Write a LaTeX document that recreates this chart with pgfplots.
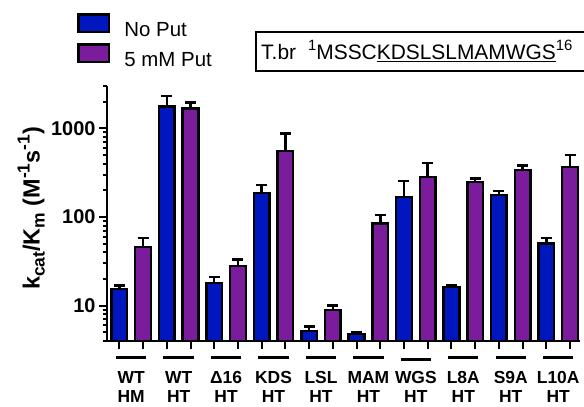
\documentclass[border=0pt]{standalone}
\usepackage{fontspec}
\setmainfont{Liberation Sans}
\usepackage{pgfplots}
\pgfplotsset{compat=1.18}
\definecolor{barblue}{RGB}{0,22,190}
\definecolor{barpurple}{RGB}{122,28,156}
\newcommand\lsub[1]{\raisebox{-0.22em}{\fontsize{17.5}{17.5}\selectfont #1}}
\newcommand\lsup[1]{\raisebox{0.42em}{\fontsize{17.5}{17.5}\selectfont #1}}

\begin{document}
\begin{tikzpicture}
\useasboundingbox (0,0) rectangle (584bp,407bp);
\begin{axis}[
  at={(107bp,66bp)}, anchor=south west,
  width=473bp, height=255bp, scale only axis,
  ymode=log, log origin=infty,
  xmin=0.48, xmax=20.42, ymin=4, ymax=3000,
  clip mode=individual,
  axis x line*=bottom, axis y line*=left,
  axis line style={line width=2.5bp, -},
  tick align=outside,
  xtick={1,...,20}, xticklabels={},
  ytick={10,100,1000}, yticklabels={10,100,1000},
  minor ytick={4,5,6,7,8,9,20,30,40,50,60,70,80,90,200,300,400,500,600,700,800,900,2000,3000},
  major tick length=8bp, minor tick length=4.5bp,
  every tick/.style={black, line width=2bp},
  yticklabel style={font=\fontsize{20}{20}\selectfont\bfseries},
  extra x ticks={1.5,3.5,5.5,7.5,9.5,11.5,13.5,15.5,17.5,19.5},
  extra x tick labels={{WT\\HM},{WT\\HT},{Δ16\\HT},{KDS\\HT},{LSL\\HT},{MAM\\HT},{WGS\\HT},{L8A\\HT},{S9A\\HT},{L10A\\HT}},
  extra x tick style={major tick length=0pt, tick style={draw=none},
     xticklabel style={align=center, font=\fontsize{17.5}{19}\selectfont\bfseries, yshift=-27bp}},
  ylabel={k\lsub{cat}/K\lsub{m} (M\lsup{-1}s\lsup{-1})},
  ylabel style={font=\fontsize{23.5}{25}\selectfont\bfseries, at={(axis description cs:-0.16,0.52)}, anchor=center},
  legend style={draw=none, fill=none, inner sep=0pt, at={(axis description cs:-0.0634,1.286)}, anchor=north west,
     font=\fontsize{20.5}{22}\selectfont, row sep=3bp, cells={anchor=west}},
  legend image code/.code={\draw[#1, line width=2.5bp, draw=black] (1.25bp,-1.45bp) rectangle (31.75bp,16.05bp); \path (44bp,0bp);},
]
\addplot[ybar, bar width=0.66, bar shift=0pt, fill=barblue, draw=black, line width=2.5bp,
  error bars/.cd, y dir=plus, y explicit,
  error bar style={line width=2.5bp, black},
  error mark options={rotate=90, mark size=5.5bp, line width=2.5bp, black}]
  table[x=x, y=y, y error=e] {
x y e
1 15.5 1.5
3 1770 530
5 18 3
7 186 43
9 5.2 0.6
11 4.8 0.2
13 168 86
15 16.3 0.7
17 177 19
19 50 8
};
\addlegendentry{No Put}
\addplot[ybar, bar width=0.66, bar shift=0pt, fill=barpurple, draw=black, line width=2.5bp,
  error bars/.cd, y dir=plus, y explicit,
  error bar style={line width=2.5bp, black},
  error mark options={rotate=90, mark size=5.5bp, line width=2.5bp, black}]
  table[x=x, y=y, y error=e] {
x y e
2 46 12
4 1680 280
6 28 5
8 553 322
10 9.0 1.0
12 84 21
14 282 122
16 247 23
18 339 44
20 364 136
};
\addlegendentry{5 mM Put}
\draw[line width=3bp] ([yshift=-16.5bp]axis cs:0.86,4) -- ([yshift=-16.5bp]axis cs:2.14,4);
\draw[line width=3bp] ([yshift=-16.5bp]axis cs:2.86,4) -- ([yshift=-16.5bp]axis cs:4.14,4);
\draw[line width=3bp] ([yshift=-16.5bp]axis cs:4.86,4) -- ([yshift=-16.5bp]axis cs:6.14,4);
\draw[line width=3bp] ([yshift=-16.5bp]axis cs:6.86,4) -- ([yshift=-16.5bp]axis cs:8.14,4);
\draw[line width=3bp] ([yshift=-16.5bp]axis cs:8.86,4) -- ([yshift=-16.5bp]axis cs:10.14,4);
\draw[line width=3bp] ([yshift=-16.5bp]axis cs:10.86,4) -- ([yshift=-16.5bp]axis cs:12.14,4);
\draw[line width=3bp] ([yshift=-19bp]axis cs:12.86,4) -- ([yshift=-19bp]axis cs:14.14,4);
\draw[line width=3bp] ([yshift=-16.5bp]axis cs:14.86,4) -- ([yshift=-16.5bp]axis cs:16.14,4);
\draw[line width=3bp] ([yshift=-16.5bp]axis cs:16.86,4) -- ([yshift=-16.5bp]axis cs:18.14,4);
\draw[line width=3bp] ([yshift=-16.5bp]axis cs:18.86,4) -- ([yshift=-16.5bp]axis cs:20.14,4);
\end{axis}
\draw[line width=1.5bp] (255.75bp,336bp) rectangle (600bp,375bp);
\node[anchor=base west, inner sep=0pt, font=\fontsize{21}{22}\selectfont] at (261bp,347bp)
  {T.br\hspace{12bp}\raisebox{0.45em}{\fontsize{15}{15}\selectfont 1}MSSC\underline{KDSLSLMAMWGS}\raisebox{0.45em}{\fontsize{15}{15}\selectfont 16}};
\end{tikzpicture}
\end{document}
